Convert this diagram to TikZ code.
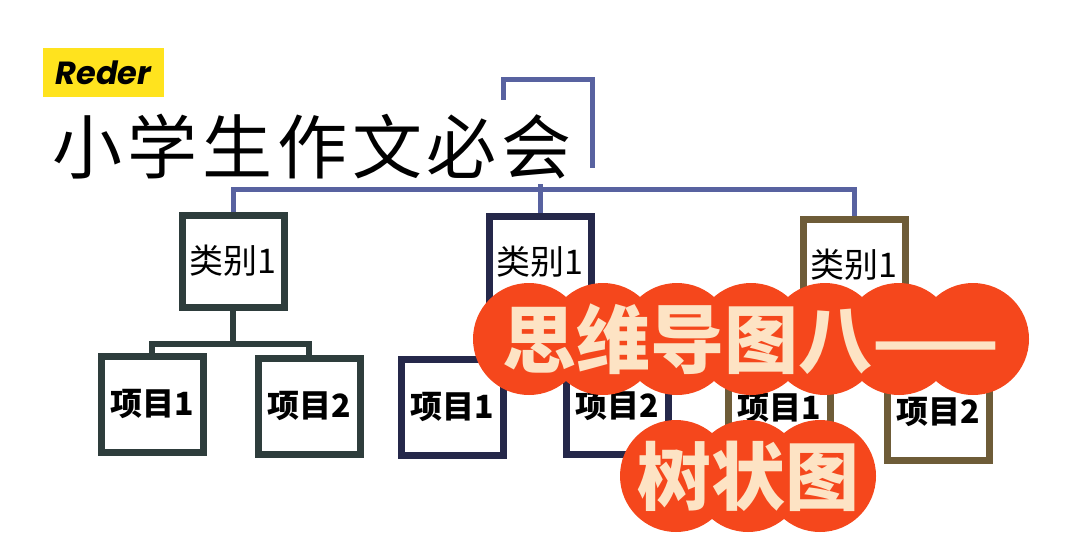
\documentclass[tikz,border=0pt]{standalone}
\usepackage{fontspec}
\newfontfamily\cjk{Noto Sans CJK SC}
\newfontfamily\poppins{Poppins}
\definecolor{linkblue}{HTML}{5862A0}
\definecolor{slategreen}{HTML}{2E3D3C}
\definecolor{navy}{HTML}{25284A}
\definecolor{olive}{HTML}{6E5C38}
\definecolor{bannerred}{HTML}{F5471C}
\definecolor{cream}{HTML}{FDE3C4}
\definecolor{tagyellow}{HTML}{FFE31E}
\tikzset{
  catbox/.style={draw, line width=3.5pt, fill=white, minimum width=51pt, minimum height=46pt, inner sep=0pt, font=\cjk\fontsize{17}{17}\selectfont},
  itembox/.style={catbox, minimum height=48pt, font=\cjk\bfseries\fontsize{16}{16}\selectfont},
  link/.style={line width=2.5pt, draw=linkblue},
  bubble/.style={fill=bannerred},
  bubbletext/.style={text=cream, inner sep=0pt, font=\cjk\bfseries\fontsize{37}{37}\selectfont},
}
\begin{document}
\begin{tikzpicture}[x=0.5pt, y=-0.5pt]
	\useasboundingbox[fill=white] (0,0) rectangle (1080,540);
	% boxes
	\node[catbox, draw=slategreen] (catA) at (233,261) {类别1};
	\node[catbox, draw=navy] (catB) at (540,262) {类别1};
	\node[catbox, draw=olive] (catC) at (854,265) {类别1};
	\node[itembox, draw=slategreen] (itemA1) at (152,404) {项目1};
	\node[itembox, draw=slategreen] (itemA2) at (309,406) {项目2};
	\node[itembox, draw=navy] (itemB1) at (452,407) {项目1};
	\node[itembox, draw=navy] (itemB2) at (617,406) {项目2};
	\node[itembox, draw=olive] (itemC1) at (779,408) {项目1};
	\node[itembox, draw=olive] (itemC2) at (938,412) {项目2};
	% connectors
	\coordinate (bracketL) at (503,100);
	\coordinate (bracketR) at (592,168);
	\coordinate (hub) at (540,184);
	\draw[link] (bracketL) -- ++(0,-20) -| (bracketR);
	\draw[link] (catA.north) -- ++(0,-22) -| (catC.north);
	\draw[link] (hub) -- (catB.north);
	\draw[link, line width=3pt, draw=slategreen] (catA.south) -- ++(0,33) coordinate (forkA);
	\draw[link, line width=3pt, draw=slategreen] (itemA1.north) |- (forkA) -| (itemA2.north);
	% title
	\node[fill=tagyellow, minimum width=60.5pt, minimum height=24.5pt, inner sep=0pt,
	      font=\poppins\bfseries\itshape\fontsize{16}{16}\selectfont] (tag) at (103.5,72.5) {Reder};
	\node[anchor=west, inner sep=0pt, font=\cjk\addfontfeature{LetterSpace=7}\fontsize{35}{35}\selectfont] (title) at (52,147) {小学生作文必会};
	% banners
	\foreach \cx in {529,603,677,751,825,899,973}
		\fill[bubble] (\cx,339) circle (28pt);
	\foreach \cx in {676,748,820}
		\fill[bubble] (\cx,476) circle (28pt);
	\node[bubbletext] (banner) at (751,339) {思维导图八——};
	\node[bubbletext] (subbanner) at (748,476) {树状图};
\end{tikzpicture}
\end{document}
